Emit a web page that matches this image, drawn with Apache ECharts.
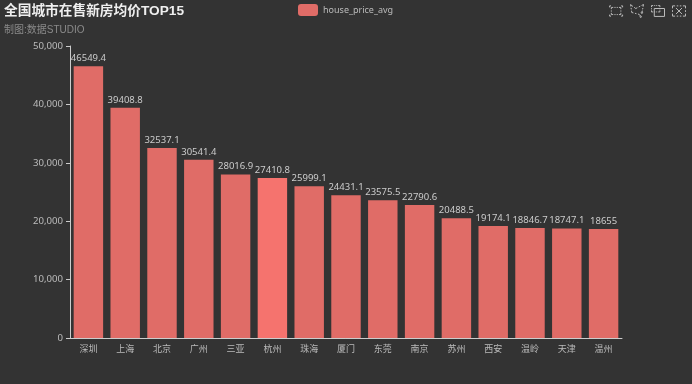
<!DOCTYPE html>
<html>
<head>
<meta charset="utf-8">
<style>
  html, body { margin: 0; padding: 0; background: #333; }
  #chart { width: 692px; height: 384px; }
</style>
<script src="https://cdn.jsdelivr.net/npm/echarts@6/dist/echarts.min.js"></script>
</head>
<body>
<div id="chart"></div>
<script>
const cities = ['深圳', '上海', '北京', '广州', '三亚', '杭州', '珠海', '厦门', '东莞', '南京', '苏州', '西安', '温岭', '天津', '温州'];
const housePriceAvg = [46549.4, 39408.8, 32537.1, 30541.4, 28016.9, 27410.8, 25999.1, 24431.1, 23575.5, 22790.6, 20488.5, 19174.1, 18846.7, 18747.1, 18655];
const hoveredCity = '杭州';

const titleFont = '"Liberation Sans", "Noto Sans CJK SC", sans-serif';
const labelFont = '"Noto Sans", "Noto Sans CJK SC", sans-serif';

const myChart = echarts.init(document.getElementById('chart'));
myChart.setOption({
  animation: false,
  backgroundColor: '#333333',
  textStyle: { fontFamily: labelFont },
  title: {
    text: '全国城市在售新房均价TOP15',
    subtext: '制图:数据STUDIO',
    left: 4,
    top: 4,
    itemGap: 8,
    padding: 0,
    textStyle: { color: '#eeeeee', fontSize: 13.7, fontWeight: 'bold', fontFamily: titleFont },
    subtextStyle: { color: '#8a8a8a', fontSize: 10, fontFamily: titleFont }
  },
  legend: {
    data: ['house_price_avg'],
    top: 4,
    left: 298,
    padding: 0,
    itemWidth: 20,
    itemHeight: 12,
    itemGap: 4,
    textStyle: { color: '#bbbbbb', fontSize: 9, fontFamily: labelFont }
  },
  toolbox: {
    show: true,
    right: -11,
    top: -13,
    itemSize: 13,
    itemGap: 3,
    iconStyle: { borderColor: '#bbbbbb' },
    feature: { brush: { type: ['rect', 'polygon', 'keep', 'clear'], title: { rect: '', polygon: '', keep: '', clear: '' } } }
  },
  brush: { xAxisIndex: 'all', yAxisIndex: 'all', throttleType: 'debounce' },
  grid: { left: 70, right: 70, top: 46, bottom: 46 },
  xAxis: {
    type: 'category',
    data: cities,
    axisLine: { lineStyle: { color: '#cccccc' } },
    axisTick: { length: 4, lineStyle: { color: '#cccccc' } },
    axisLabel: { color: '#bbbbbb', fontSize: 9, margin: 7, fontFamily: labelFont }
  },
  yAxis: {
    type: 'value',
    min: 0,
    max: 50000,
    interval: 10000,
    splitLine: { show: false },
    axisLine: { show: true, lineStyle: { color: '#cccccc' } },
    axisTick: { show: true, length: 4, lineStyle: { color: '#cccccc' } },
    axisLabel: {
      color: '#bbbbbb',
      fontSize: 9.6,
      margin: 7,
      fontFamily: labelFont,
      formatter: function (v) { return v.toLocaleString('en-US'); }
    }
  },
  series: [{
    name: 'house_price_avg',
    type: 'bar',
    barWidth: '80%',
    color: '#e06c67',
    itemStyle: { color: '#e06c67' },
    label: { show: true, position: 'top', color: '#cccccc', fontSize: 9.5, distance: 3, fontFamily: labelFont },
    data: housePriceAvg.map(function (v, i) {
      // 杭州 is drawn in its hover colour, as in the screenshot
      return cities[i] === hoveredCity ? { value: v, itemStyle: { color: '#f5736e' } } : v;
    })
  }]
});
</script>
</body>
</html>
